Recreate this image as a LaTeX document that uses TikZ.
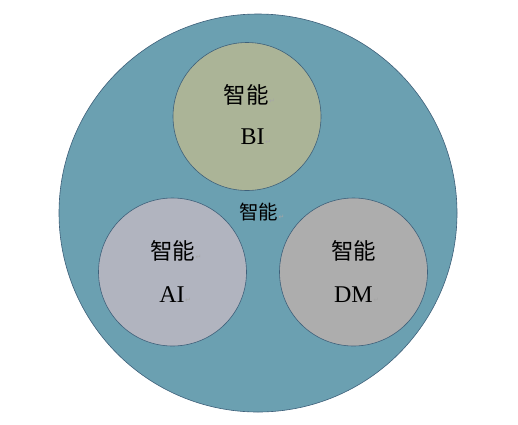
\documentclass[tikz,border=0pt]{standalone}
\usepackage{fontspec}
\setmainfont{Liberation Serif}
\newfontfamily\cjk{Noto Sans CJK SC}
\newfontfamily\marksfont{DejaVu Sans}
\usepackage{tikz}
\definecolor{outerfill}{RGB}{107,160,177}
\definecolor{discedge}{RGB}{62,96,122}
\definecolor{bifill}{RGB}{171,180,151}
\definecolor{aifill}{RGB}{177,180,191}
\definecolor{dmfill}{RGB}{173,173,173}
\newcommand{\defaultdiscsize}{148pt}
\newcommand{\discsize}{\defaultdiscsize}
\tikzstyle{disc}=[circle, draw=discedge, line width=0.6pt, inner sep=0, outer sep=0, minimum size=\discsize]
\tikzstyle{outerdisc}=[disc, fill=outerfill, minimum size=398pt]
\tikzstyle{bidisc}=[disc, fill=bifill]
\tikzstyle{aidisc}=[disc, fill=aifill]
\tikzstyle{dmdisc}=[disc, fill=dmfill]
\tikzstyle{cjklabel}=[inner sep=0, outer sep=0, font=\cjk\fontsize{22.5}{24}\selectfont]
\tikzstyle{latinlabel}=[inner sep=0, outer sep=0, font=\fontsize{24}{26}\selectfont]
\tikzstyle{rmark}=[inner sep=0, outer sep=0.5pt, anchor=base west, text=gray!70, font=\marksfont\fontsize{7}{8}\selectfont]
\tikzstyle{venn}=[x=1pt, y=-1pt,
                  % White page with the reference margins.
                  execute at begin picture={\useasboundingbox[fill=white] (0, 0) rectangle (518, 424);}]

\begin{document}
\begin{tikzpicture}[venn]
        \node[outerdisc]                  (Outer) at (258, 213) {};
        \node[bidisc]                     (BI) at (247, 116.5) {};
        \node[aidisc]                     (AI) at (172.5, 272) {};
        \node[dmdisc]                     (DM) at (353.5, 272) {};
        % Texts in the discs.
        \node[cjklabel]                   (BItop) at (246, 95) {智能};
        \node[latinlabel]                 (BIname) at (252.5, 137) {BI};
        \node[cjklabel, font=\cjk\fontsize{19.5}{21}\selectfont] (Mid) at (258.5, 212.5) {智能};
        \node[cjklabel]                   (AItop) at (172.5, 251) {智能};
        \node[latinlabel]                 (AIname) at (172, 294.5) {AI};
        \node[cjklabel]                   (DMtop) at (353.5, 251) {智能};
        \node[latinlabel]                 (DMname) at (353.5, 294.5) {DM};
        % Paragraph marks.
        \node[rmark] at (BItop.base east) {↵};
        \node[rmark] at (BIname.base east) {↵};
        \node[rmark] at (Mid.base east) {↵};
        \node[rmark] at (AItop.base east) {↵};
        \node[rmark] at (AIname.base east) {↵};
        \node[rmark] at (DMname.base east) {↵};
    \end{tikzpicture}
\end{document}
